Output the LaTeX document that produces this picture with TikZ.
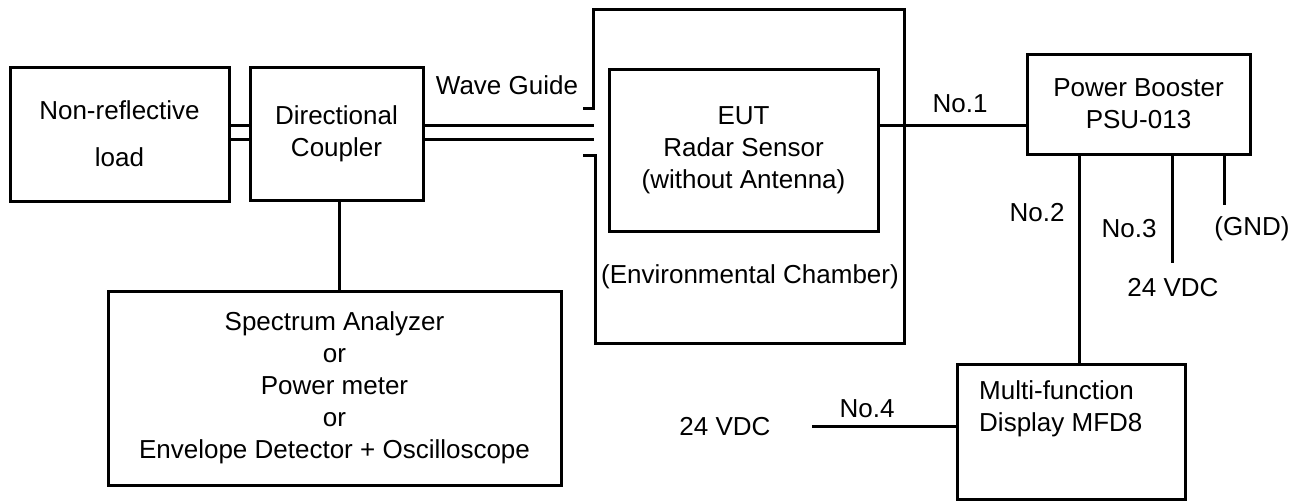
\documentclass[tikz,border=0pt]{standalone}
\usepackage{fontspec}
\setmainfont{Liberation Sans}
\usetikzlibrary{positioning,calc}
\tikzset{b/.style={draw,line width=3pt,align=center,inner sep=0pt},
 wire/.style={line width=3pt},lbl/.style={inner sep=1pt}}

\begin{document}
\begin{tikzpicture}[x=1pt,y=-1pt,font=\fontsize{26}{32}\selectfont]
\useasboundingbox (0,0) rectangle (1306,501);
\node[b,minimum width=219pt,minimum height=134pt](nl) at (119.5,134){Non-reflective\\[15pt]load};
\node[b,minimum width=173pt,minimum height=133pt](dc) at (336.5,133.5){Directional\\Coupler};
\node[b,minimum width=453pt,minimum height=194pt](sa) at (334.5,388){Spectrum Analyzer\\or\\Power meter\\or\\Envelope Detector + Oscilloscope};
\node[b,minimum width=269pt,minimum height=162pt](eut) at (743.5,150){EUT\\Radar Sensor\\(without Antenna)};
\node[b,minimum width=223pt,minimum height=100pt](pb) at (1138.5,104){Power Booster\\PSU-013};
\node[b,minimum width=228pt,minimum height=135pt](mfd) at (1071,431.5){};
\node[lbl,anchor=west,align=left](mfdt) at (978,409){Multi-function\\Display MFD8};
\draw[wire](nl.east |- 0,125)--(dc.west |- 0,125);\draw[wire](nl.east |- 0,139)--(dc.west |- 0,139);
\draw[wire](dc.south -| 339,0)--(sa.north -| 339,0);
\coordinate(wg1) at (594,125);\coordinate(wg2) at (594,139);
\draw[wire](dc.east |- wg1)--(wg1);\draw[wire](dc.east |- wg2)--(wg2);
\node[lbl](wg) at (507,85){Wave Guide};
\draw[wire](583,108)-|(593,9)-|(904,343)-|(595,155)--(583,155);
\node[lbl](ec) at (750,277){(Environmental Chamber)};
\draw[wire](eut.east |- 0,125)--(pb.west |- 0,125);\node[lbl](n1) at (960,104){No.1};
\draw[wire](pb.south -| 1079,0)--(mfd.north -| 1079,0);\node[lbl](n2) at (1037,213){No.2};
\coordinate(v3) at (1172,263);\draw[wire](pb.south -| v3)--(v3);
\node[lbl](n3) at (1129,229){No.3};\node[lbl](dc3) at (1173,288){24 VDC};
\coordinate(gd) at (1224,205);\draw[wire](pb.south -| gd)--(gd);\node[lbl](gnd) at (1252,229){(GND)};
\coordinate(v4) at (812,426);\draw[wire](v4)--(mfd.west |- v4);
\node[lbl](dc4) at (725,427){24 VDC};\node[lbl](n4) at (867,409){No.4};
\end{tikzpicture}
\end{document}
